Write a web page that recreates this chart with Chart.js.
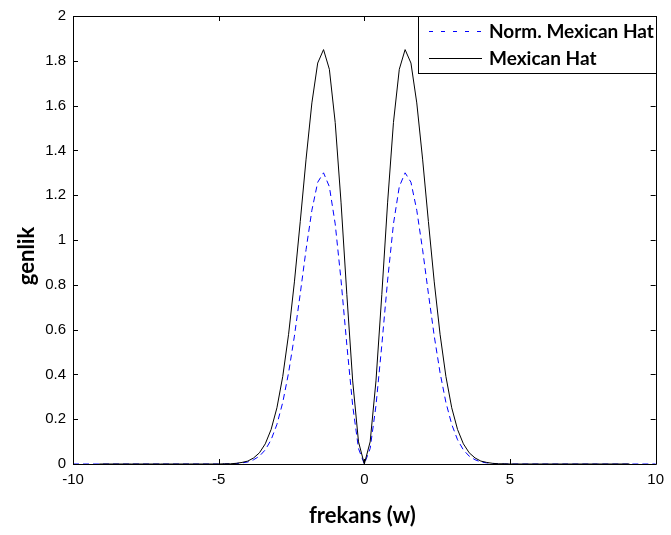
<!DOCTYPE html>
<html>
<head>
<meta charset="utf-8">
<script src="https://cdn.jsdelivr.net/npm/chart.js@4/dist/chart.umd.min.js"></script>
<style>
  html, body { margin: 0; padding: 0; background: #fff; }
  #wrap { width: 671px; height: 535px; }
</style>
</head>
<body>
<div id="wrap"><canvas id="c" width="671" height="535"></canvas></div>
<script>
// Frequency axis samples (w)
const freq = [
  -10, -9.1, -8, -7, -6, -5,
  -4.8, -4.6, -4.4, -4.2, -4, -3.8, -3.6, -3.4, -3.2, -3,
  -2.8, -2.6, -2.4, -2.2, -2, -1.8, -1.6, -1.4, -1.2, -1,
  -0.8, -0.6, -0.4, -0.2, 0, 0.2, 0.4, 0.6, 0.8, 1,
  1.2, 1.4, 1.6, 1.8, 2, 2.2, 2.4, 2.6, 2.8, 3,
  3.2, 3.4, 3.6, 3.8, 4, 4.2, 4.4, 4.6, 4.8,
  5, 6, 7, 8, 9.1, 10
];

// Spectrum amplitude of the Mexican Hat wavelet
const mexicanHat = [
  null, 0, 0, 0, 0, 0,
  0.001, 0.001, 0.003, 0.007, 0.013, 0.027, 0.050, 0.090, 0.154, 0.251,
  0.391, 0.579, 0.813, 1.082, 1.361, 1.612, 1.790, 1.850, 1.762, 1.525,
  1.169, 0.756, 0.371, 0.099, 0, 0.099, 0.371, 0.756, 1.169, 1.525,
  1.762, 1.850, 1.790, 1.612, 1.361, 1.082, 0.813, 0.579, 0.391, 0.251,
  0.154, 0.090, 0.050, 0.027, 0.013, 0.007, 0.003, 0.001, 0.001,
  0, 0, 0, 0, 0, null
];

// Spectrum amplitude of the normalised Mexican Hat wavelet
const normMexicanHat = [
  0, 0, 0, 0, 0, 0,
  0, 0.001, 0.002, 0.005, 0.009, 0.019, 0.035, 0.063, 0.108, 0.177,
  0.275, 0.407, 0.571, 0.760, 0.957, 1.133, 1.258, 1.300, 1.238, 1.072,
  0.821, 0.531, 0.261, 0.069, 0, 0.069, 0.261, 0.531, 0.821, 1.072,
  1.238, 1.300, 1.258, 1.133, 0.957, 0.760, 0.571, 0.407, 0.275, 0.177,
  0.108, 0.063, 0.035, 0.019, 0.009, 0.005, 0.002, 0.001, 0,
  0, 0, 0, 0, 0, 0
];

const seriesNames = ['Norm. Mexican Hat', 'Mexican Hat'];
const xTitle = 'frekans (w)';
const yTitle = 'genlik';

const toPoints = ys => freq.map((x, i) => ({ x: x, y: ys[i] }));

const TICK_FONT = { family: '"Liberation Sans", Arial, sans-serif', size: 15 };
const TITLE_FONT = 'bold 22px Lato, "Open Sans", sans-serif';
const LEGEND_FONT = 'bold 19px Lato, "Open Sans", sans-serif';

// Box frame with inward ticks on all four sides
const framePlugin = {
  id: 'frame',
  afterDatasetsDraw(chart) {
    const { ctx, chartArea: a, scales } = chart;
    ctx.save();
    ctx.strokeStyle = '#000';
    ctx.lineWidth = 1;
    ctx.beginPath();
    ctx.rect(Math.round(a.left) + 0.5, Math.round(a.top) + 0.5,
             Math.round(a.right - a.left), Math.round(a.bottom - a.top));
    ctx.stroke();
    const len = 5;
    ctx.beginPath();
    scales.x.ticks.forEach(t => {
      const px = Math.round(scales.x.getPixelForValue(t.value)) + 0.5;
      ctx.moveTo(px, a.bottom); ctx.lineTo(px, a.bottom - len);
      ctx.moveTo(px, a.top); ctx.lineTo(px, a.top + len);
    });
    scales.y.ticks.forEach(t => {
      const py = Math.round(scales.y.getPixelForValue(t.value)) + 0.5;
      ctx.moveTo(a.left, py); ctx.lineTo(a.left + len, py);
      ctx.moveTo(a.right, py); ctx.lineTo(a.right - len, py);
    });
    ctx.stroke();
    ctx.restore();
  }
};

// Axis titles
const titlesPlugin = {
  id: 'titles',
  afterDraw(chart) {
    const { ctx, chartArea: a } = chart;
    ctx.save();
    ctx.fillStyle = '#000';
    ctx.font = TITLE_FONT;
    ctx.textAlign = 'center';
    ctx.textBaseline = 'middle';
    ctx.fillText(xTitle, (a.left + a.right) / 2 - 2, a.bottom + 52);
    ctx.translate(a.left - 46, (a.top + a.bottom) / 2 + 16);
    ctx.rotate(-Math.PI / 2);
    ctx.fillText(yTitle, 0, 0);
    ctx.restore();
  }
};

// Legend box in the upper right corner of the plot
const legendPlugin = {
  id: 'boxLegend',
  afterDraw(chart) {
    const { ctx, chartArea: a } = chart;
    const w = 238, h = 57;
    const left = Math.round(a.right) - w, top = Math.round(a.top);
    ctx.save();
    ctx.fillStyle = '#fff';
    ctx.fillRect(left, top, w, h);
    ctx.strokeStyle = '#000';
    ctx.lineWidth = 1;
    ctx.strokeRect(left + 0.5, top + 0.5, w, h);
    ctx.font = LEGEND_FONT;
    ctx.textBaseline = 'middle';
    ctx.textAlign = 'left';
    chart.data.datasets.forEach((ds, i) => {
      const y = top + 15 + i * 27 + 0.5;
      ctx.strokeStyle = ds.borderColor;
      ctx.lineWidth = 1;
      ctx.setLineDash(ds.borderDash && ds.borderDash.length ? [4, 8] : []);
      ctx.beginPath();
      ctx.moveTo(left + 11, y);
      ctx.lineTo(left + 64, y);
      ctx.stroke();
      ctx.setLineDash([]);
      ctx.fillStyle = '#000';
      ctx.fillText(ds.label, left + 71, y);
    });
    ctx.restore();
  }
};

new Chart(document.getElementById('c'), {
  type: 'scatter',
  data: {
    datasets: [
      {
        label: seriesNames[0],
        data: toPoints(normMexicanHat),
        showLine: true,
        borderColor: '#0000ff',
        borderWidth: 1,
        borderDash: [6, 4],
        pointRadius: 0,
        tension: 0,
        clip: false,
        order: 1
      },
      {
        label: seriesNames[1],
        data: toPoints(mexicanHat),
        showLine: true,
        borderColor: '#000000',
        borderWidth: 1,
        pointRadius: 0,
        tension: 0,
        clip: false,
        order: 0
      }
    ]
  },
  options: {
    responsive: false,
    animation: false,
    events: [],
    layout: { padding: { left: 0, right: 12, top: 10, bottom: 0 } },
    plugins: { legend: { display: false }, tooltip: { enabled: false } },
    scales: {
      x: {
        type: 'linear',
        min: -10, max: 10,
        grid: { display: false, drawTicks: false },
        border: { display: false },
        ticks: { stepSize: 5, color: '#000', font: TICK_FONT, padding: 7, maxRotation: 0 },
        afterFit(scale) { scale.height = 71; }
      },
      y: {
        type: 'linear',
        min: 0, max: 2,
        grid: { display: false, drawTicks: false },
        border: { display: false },
        ticks: {
          stepSize: 0.2, color: '#000', font: TICK_FONT, padding: 7,
          callback: v => String(+v.toFixed(1))
        },
        afterFit(scale) { scale.width = 73; }
      }
    }
  },
  plugins: [framePlugin, titlesPlugin, legendPlugin]
});
</script>
</body>
</html>
